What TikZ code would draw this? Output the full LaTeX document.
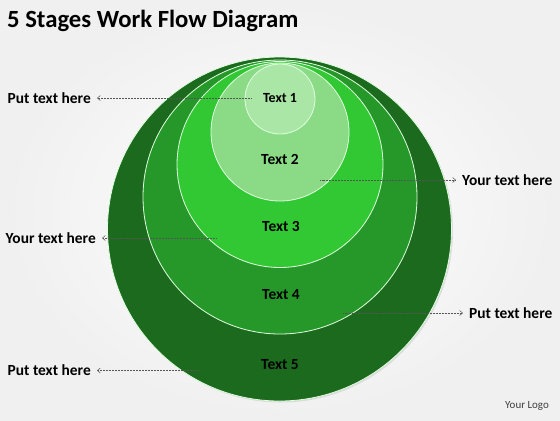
\documentclass[tikz,border=0pt]{standalone}
\usepackage{fontspec}
\setmainfont{Carlito}
\usepackage{xcolor}
\usepackage{tikz}
\usetikzlibrary{arrows.meta}
\usetikzlibrary{shadows}

\definecolor{ringfive}{RGB}{28,106,30}
\definecolor{ringfour}{RGB}{38,152,42}
\definecolor{ringthree}{RGB}{50,200,52}
\definecolor{ringtwo}{RGB}{138,218,134}
\definecolor{ringone}{RGB}{170,230,166}
\definecolor{pointergray}{RGB}{85,85,85}

\tikzset{
  ring/.style={circle, inner sep=0pt, draw=white!88!green, line width=0.8bp},
  stagetext/.style={font=\bfseries\fontsize{15.5}{17}\selectfont, text=black},
  sidetext/.style={font=\bfseries\fontsize{15.5}{18}\selectfont, text=black, inner xsep=6bp, inner ysep=0pt},
  pointer/.style={densely dotted, draw=pointergray, line width=0.5bp, -{Straight Barb[length=3bp, width=5bp]}}
}

\begin{document}
\begin{tikzpicture}[x=1bp, y=-1bp]
        \shade[inner color=white, outer color=black!6] (0,0) rectangle (560,420);
        \useasboundingbox (0,0) rectangle (560,420);
        \node[anchor=base west, inner sep=0pt, font=\bfseries\fontsize{24.8}{29}\selectfont] (title) at (7,27) {5 Stages Work Flow Diagram};

        \node[ring, minimum size=344bp, fill=ringfive, drop shadow={opacity=0.2, shadow xshift=1.5bp, shadow yshift=-1.5bp}] (ring5) at (279.5,229) {};
        \node[ring, minimum size=274bp, fill=ringfour] (ring4) at (280,197) {};
        \node[ring, minimum size=206bp, fill=ringthree] (ring3) at (280,164.5) {};
        \node[ring, minimum size=138bp, fill=ringtwo] (ring2) at (280,132) {};
        \node[ring, minimum size=70bp, fill=ringone] (ring1) at (280,99) {};

        \node[stagetext, font=\bfseries\fontsize{14}{16}\selectfont] (t1) at (280,98) {Text 1};
        \node[stagetext] (t2) at (280,159) {Text 2};
        \node[stagetext] (t3) at (281,226.5) {Text 3};
        \node[stagetext] (t4) at (281,295) {Text 4};
        \node[stagetext] (t5) at (280,365) {Text 5};

        \node[sidetext, anchor=east] (left1) at (97,98) {Put text here};
        \node[sidetext, anchor=west] (right1) at (456,180) {Your text here};
        \node[sidetext, anchor=east] (left2) at (102,238) {Your text here};
        \node[sidetext, anchor=west] (right2) at (463,313) {Put text here};
        \node[sidetext, anchor=east] (left3) at (97,370.5) {Put text here};

        \coordinate (p1) at (251,98);
        \coordinate (p2) at (320,180);
        \coordinate (p3) at (216,238);
        \coordinate (p4) at (343,313);
        \coordinate (p5) at (199,370.5);

        \draw[pointer] (p1) -- (left1.east);
        \draw[pointer] (p2) -- (right1.west);
        \draw[pointer] (p3) -- (left2.east);
        \draw[pointer] (p4) -- (right2.west);
        \draw[pointer] (p5) -- (left3.east);

        \node[font=\fontsize{11}{13}\selectfont, text=black!75] (logo) at (527,406) {Your Logo};
      \end{tikzpicture}
\end{document}
